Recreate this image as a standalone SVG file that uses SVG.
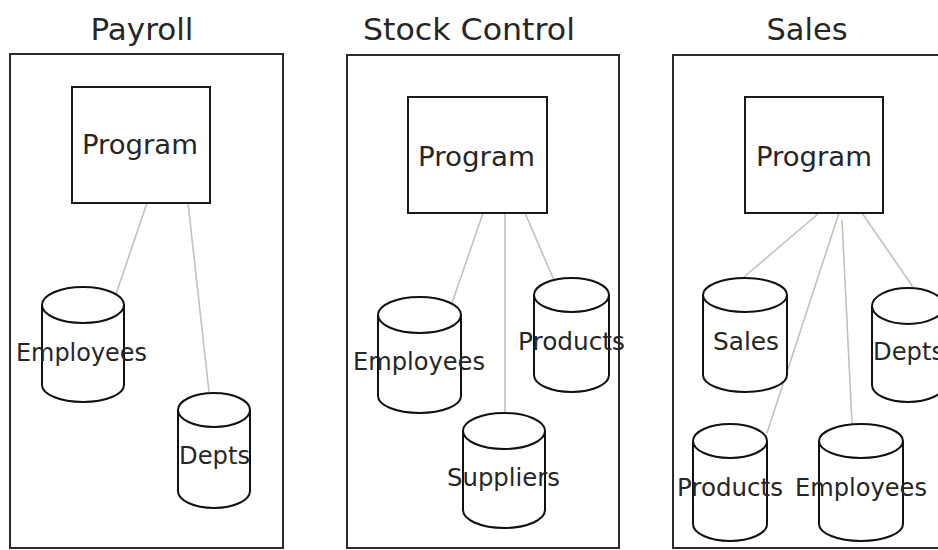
<svg xmlns="http://www.w3.org/2000/svg" width="938" height="550" viewBox="0 0 938 550">
  <style>
    .panel { fill: none; stroke: #2a2a2a; stroke-width: 2; }
    .prog { fill: #ffffff; stroke: #1a1a1a; stroke-width: 2; }
    .db { fill: #ffffff; stroke: #111111; stroke-width: 2; }
    .link { stroke: #c2c2b8; stroke-width: 1.6; fill: none; }
    text { font-family: "DejaVu Sans", "Liberation Sans", sans-serif; fill: #262626; text-anchor: middle; }
    .title { font-size: 30px; }
    .plabel { font-size: 27px; }
    .dlabel { font-size: 24px; }
  </style>
  <rect width="938" height="550" fill="#ffffff"/>

  <!-- application panels -->
  <g id="panel-payroll">
    <rect class="panel" x="10" y="54" width="273" height="494"/>
    <text class="title" x="142" y="40" textLength="103" lengthAdjust="spacingAndGlyphs">Payroll</text>
  </g>
  <g id="panel-stock">
    <rect class="panel" x="347" y="55" width="272" height="493"/>
    <text class="title" x="469" y="40" textLength="212" lengthAdjust="spacingAndGlyphs">Stock Control</text>
  </g>
  <g id="panel-sales">
    <rect class="panel" x="673" y="55" width="290" height="493"/>
    <text class="title" x="807" y="40" textLength="81" lengthAdjust="spacingAndGlyphs">Sales</text>
  </g>

  <!-- connectors -->
  <g id="connectors">
    <line class="link" x1="147" y1="203" x2="115" y2="297"/>
    <line class="link" x1="188" y1="203" x2="209" y2="392"/>

    <line class="link" x1="483" y1="213" x2="452" y2="303"/>
    <line class="link" x1="505" y1="213" x2="505" y2="413"/>
    <line class="link" x1="525" y1="213" x2="557" y2="287"/>

    <line class="link" x1="819" y1="213" x2="744" y2="277"/>
    <line class="link" x1="839" y1="213" x2="767" y2="433"/>
    <line class="link" x1="842" y1="220" x2="852" y2="423"/>
    <line class="link" x1="862" y1="213" x2="913" y2="287"/>
  </g>

  <!-- Payroll -->
  <g id="payroll-program">
    <rect class="prog" x="72" y="87" width="138" height="116"/>
    <text class="plabel" x="140" y="154" textLength="116" lengthAdjust="spacingAndGlyphs">Program</text>
  </g>
  <g id="payroll-employees">
    <path class="db" d="M42,305 A41,18 0 0 1 124,305 A41,18 0 0 1 42,305 Z M42,305 L42,385 A41,17 0 0 0 124,385 L124,305"/>
    <text class="dlabel" x="81.5" y="361" textLength="131" lengthAdjust="spacingAndGlyphs">Employees</text>
  </g>
  <g id="payroll-depts">
    <path class="db" d="M178,410 A36,17 0 0 1 250,410 A36,17 0 0 1 178,410 Z M178,410 L178,491 A36,17 0 0 0 250,491 L250,410"/>
    <text class="dlabel" x="214.5" y="464" textLength="71" lengthAdjust="spacingAndGlyphs">Depts</text>
  </g>

  <!-- Stock Control -->
  <g id="stock-program">
    <rect class="prog" x="408" y="97" width="139" height="116"/>
    <text class="plabel" x="476.5" y="166" textLength="117" lengthAdjust="spacingAndGlyphs">Program</text>
  </g>
  <g id="stock-employees">
    <path class="db" d="M378,315 A41.5,18 0 0 1 461,315 A41.5,18 0 0 1 378,315 Z M378,315 L378,396 A41.5,17 0 0 0 461,396 L461,315"/>
    <text class="dlabel" x="419" y="370" textLength="132" lengthAdjust="spacingAndGlyphs">Employees</text>
  </g>
  <g id="stock-products">
    <path class="db" d="M534,295 A37.5,17 0 0 1 609,295 A37.5,17 0 0 1 534,295 Z M534,295 L534,375 A37.5,17 0 0 0 609,375 L609,295"/>
    <text class="dlabel" x="571.5" y="350" textLength="107" lengthAdjust="spacingAndGlyphs">Products</text>
  </g>
  <g id="stock-suppliers">
    <path class="db" d="M463,431 A41,18 0 0 1 545,431 A41,18 0 0 1 463,431 Z M463,431 L463,510 A41,18 0 0 0 545,510 L545,431"/>
    <text class="dlabel" x="503.5" y="486" textLength="113" lengthAdjust="spacingAndGlyphs">Suppliers</text>
  </g>

  <!-- Sales (the panel runs past the right edge, clipping Depts) -->
  <g id="sales-program">
    <rect class="prog" x="745" y="97" width="138" height="116"/>
    <text class="plabel" x="814" y="166" textLength="116" lengthAdjust="spacingAndGlyphs">Program</text>
  </g>
  <g id="sales-sales">
    <path class="db" d="M703,295 A42,17 0 0 1 787,295 A42,17 0 0 1 703,295 Z M703,295 L703,375 A42,17 0 0 0 787,375 L787,295"/>
    <text class="dlabel" x="746" y="350" textLength="66" lengthAdjust="spacingAndGlyphs">Sales</text>
  </g>
  <g id="sales-depts">
    <path class="db" d="M872,306 A36,18 0 0 1 944,306 A36,18 0 0 1 872,306 Z M872,306 L872,385 A36,17 0 0 0 944,385 L944,306"/>
    <text class="dlabel" x="908.5" y="360" textLength="71" lengthAdjust="spacingAndGlyphs">Depts</text>
  </g>
  <g id="sales-products">
    <path class="db" d="M693,441 A37,17 0 0 1 767,441 A37,17 0 0 1 693,441 Z M693,441 L693,524 A37,17 0 0 0 767,524 L767,441"/>
    <text class="dlabel" x="730" y="496" textLength="106" lengthAdjust="spacingAndGlyphs">Products</text>
  </g>
  <g id="sales-employees">
    <path class="db" d="M819,441 A42,17 0 0 1 903,441 A42,17 0 0 1 819,441 Z M819,441 L819,524 A42,17 0 0 0 903,524 L903,441"/>
    <text class="dlabel" x="861" y="496" textLength="132" lengthAdjust="spacingAndGlyphs">Employees</text>
  </g>
</svg>
